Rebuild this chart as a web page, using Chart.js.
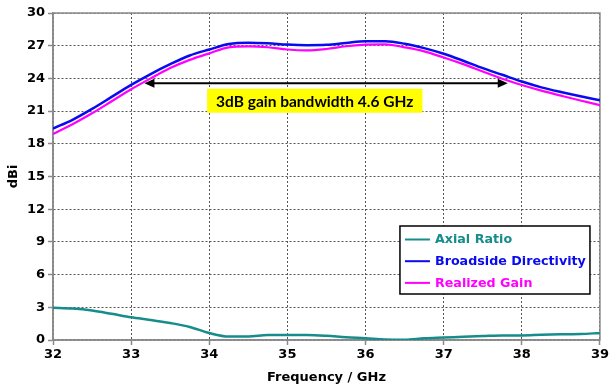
<!DOCTYPE html>
<html>
<head>
  <meta charset="utf-8">
  <title>Gain and Axial Ratio</title>
  <script src="https://cdn.jsdelivr.net/npm/chart.js"></script>
  <style>
    html, body { margin: 0; padding: 0; background: #ffffff; }
    .wrap { width: 611px; height: 390px; }
  </style>
</head>
<body>
  <div class="wrap"><canvas id="chart" width="611" height="390"></canvas></div>
  <script>
    // frequency points (GHz)
    const freq = [32, 32.25, 32.5, 32.75, 33, 33.25, 33.5, 33.75, 34, 34.25, 34.5, 34.75, 35, 35.25,
                  35.5, 35.75, 36, 36.25, 36.5, 36.75, 37, 37.25, 37.5, 37.75, 38, 38.25, 38.5, 38.75, 39];
    const directivity = [19.4, 20.2, 21.2, 22.3, 23.4, 24.4, 25.3, 26.1, 26.65, 27.15, 27.28, 27.22, 27.1, 27.05,
                         27.08, 27.25, 27.4, 27.4, 27.18, 26.78, 26.26, 25.62, 24.94, 24.33, 23.71, 23.18, 22.75, 22.36, 22.0];
    const gain = [18.9, 19.8, 20.8, 21.9, 23.0, 24.0, 24.95, 25.7, 26.3, 26.85, 26.94, 26.86, 26.65, 26.57,
                  26.7, 26.95, 27.09, 27.13, 26.85, 26.48, 25.92, 25.31, 24.63, 23.97, 23.4, 22.88, 22.42, 21.97, 21.55];
    const axialRatio = [2.95, 2.88, 2.7, 2.4, 2.08, 1.84, 1.56, 1.2, 0.64, 0.32, 0.32, 0.45, 0.45, 0.45,
                        0.38, 0.25, 0.16, 0.05, 0.03, 0.15, 0.22, 0.29, 0.36, 0.42, 0.42, 0.48, 0.52, 0.55, 0.64];

    const seriesNames = ['Axial Ratio', 'Broadside Directivity', 'Realized Gain'];
    const seriesColors = ['#168c8c', '#0a0aee', '#ff00ff'];

    // 3 dB bandwidth arrow (GHz) and label
    const bwStart = 33.17, bwEnd = 37.82, bwLevel = 23.56;
    const bwLabel = '3dB gain bandwidth 4.6 GHz';
    const labelPos = { x: 35.35, y: 21.95 };

    const toPoints = vals => vals.map((v, i) => ({ x: freq[i], y: v }));

    const extras = {
      id: 'extras',
      beforeDatasetsDraw(chart) {
        const { ctx, chartArea: a } = chart;
        ctx.save();
        ctx.strokeStyle = '#8a8a8a';
        ctx.lineWidth = 1.5;
        ctx.strokeRect(a.left, a.top, a.right - a.left, a.bottom - a.top);
        ctx.restore();
      },
      afterDatasetsDraw(chart) {
        const { ctx, chartArea: a, scales: { x, y } } = chart;
        ctx.save();

        // arrow
        const x1 = x.getPixelForValue(bwStart), x2 = x.getPixelForValue(bwEnd);
        const ya = y.getPixelForValue(bwLevel);
        ctx.strokeStyle = '#000';
        ctx.fillStyle = '#000';
        ctx.lineWidth = 2;
        ctx.beginPath();
        ctx.moveTo(x1 + 8, ya);
        ctx.lineTo(x2 - 8, ya);
        ctx.stroke();
        ctx.beginPath();
        ctx.moveTo(x1, ya); ctx.lineTo(x1 + 10, ya - 4.5); ctx.lineTo(x1 + 10, ya + 4.5); ctx.closePath();
        ctx.fill();
        ctx.beginPath();
        ctx.moveTo(x2, ya); ctx.lineTo(x2 - 10, ya - 4.5); ctx.lineTo(x2 - 10, ya + 4.5); ctx.closePath();
        ctx.fill();

        // yellow label
        ctx.font = 'bold 15.5px Lato, "Open Sans", sans-serif';
        const tw = ctx.measureText(bwLabel).width;
        const cx = x.getPixelForValue(labelPos.x), cy = y.getPixelForValue(labelPos.y);
        ctx.fillStyle = '#ffff00';
        ctx.fillRect(cx - tw / 2 - 9, cy - 12, tw + 18, 24);
        ctx.fillStyle = '#000';
        ctx.textAlign = 'center';
        ctx.textBaseline = 'middle';
        ctx.fillText(bwLabel, cx, cy + 1);

        // legend box
        const lx = a.right - 200, ly = a.bottom - 114;
        const lw = 190, lh = 68;
        ctx.fillStyle = '#fff';
        ctx.fillRect(lx, ly, lw, lh);
        ctx.strokeStyle = '#000';
        ctx.lineWidth = 1.5;
        ctx.strokeRect(lx, ly, lw, lh);
        ctx.font = 'bold 12.7px "DejaVu Sans", sans-serif';
        ctx.textAlign = 'left';
        seriesNames.forEach((name, i) => {
          const ry = ly + 13.5 + i * 21.7;
          ctx.strokeStyle = seriesColors[i];
          ctx.lineWidth = 2;
          ctx.beginPath();
          ctx.moveTo(lx + 5, ry);
          ctx.lineTo(lx + 30, ry);
          ctx.stroke();
          ctx.fillStyle = seriesColors[i];
          ctx.fillText(name, lx + 35, ry + 0.5);
        });
        ctx.restore();
      }
    };

    const tickFont = { family: '"DejaVu Sans", sans-serif', size: 13, weight: 'bold' };
    const gridOpts = {
      color: '#555',
      lineWidth: 1,
      tickColor: '#8a8a8a',
      tickBorderDash: [],
      tickLength: 5,
      tickWidth: 1.5
    };
    const borderOpts = { display: true, color: '#8a8a8a', width: 1.5, dash: [2, 2] };

    new Chart(document.getElementById('chart').getContext('2d'), {
      type: 'line',
      data: {
        datasets: [
          { label: seriesNames[0], data: toPoints(axialRatio), borderColor: seriesColors[0], borderWidth: 2.5 },
          { label: seriesNames[1], data: toPoints(directivity), borderColor: seriesColors[1], borderWidth: 2.5 },
          { label: seriesNames[2], data: toPoints(gain), borderColor: seriesColors[2], borderWidth: 2.2 }
        ]
      },
      options: {
        responsive: false,
        animation: false,
        events: [],
        layout: { padding: { top: 13, right: 9, left: 0, bottom: 0 } },
        elements: {
          point: { radius: 0 },
          line: { cubicInterpolationMode: 'monotone', fill: false }
        },
        plugins: { legend: { display: false }, tooltip: { enabled: false } },
        scales: {
          x: {
            type: 'linear',
            min: 32, max: 39,
            ticks: { stepSize: 1, color: '#000', font: tickFont, padding: 2, maxRotation: 0 },
            grid: gridOpts,
            border: borderOpts,
            title: { display: true, text: 'Frequency / GHz', color: '#000', font: tickFont, padding: { top: 0, bottom: 5 } },
            afterFit: s => { s.height = 50; }
          },
          y: {
            min: 0, max: 30,
            ticks: { stepSize: 3, color: '#000', font: tickFont, padding: 3 },
            grid: gridOpts,
            border: borderOpts,
            title: { display: true, text: 'dBi', color: '#000', font: tickFont, padding: { top: 6, bottom: 0 } },
            afterFit: s => { s.width = 53; }
          }
        }
      },
      plugins: [extras]
    });
  </script>
</body>
</html>
